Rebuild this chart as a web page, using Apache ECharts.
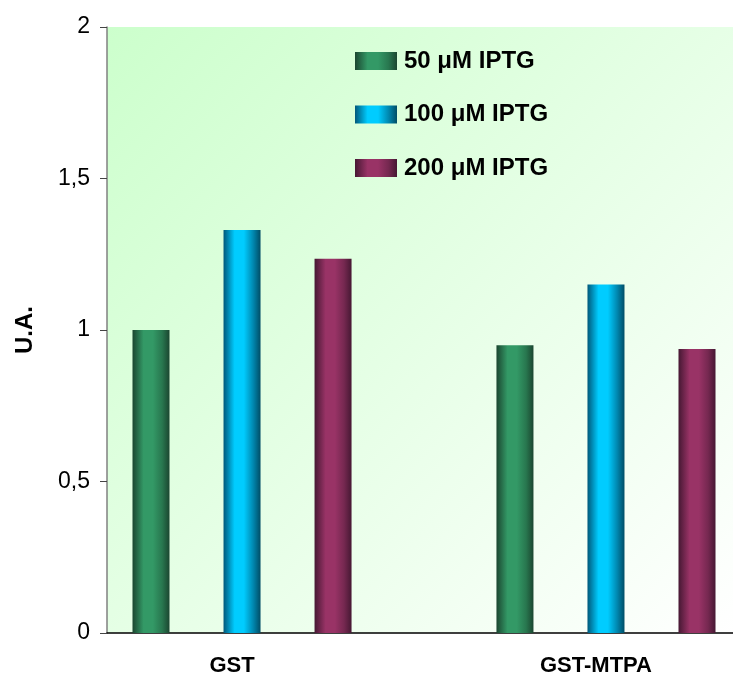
<!DOCTYPE html>
<html>
<head>
<meta charset="utf-8">
<script src="https://cdn.jsdelivr.net/npm/echarts@6/dist/echarts.min.js"></script>
<style>
html,body{margin:0;padding:0;background:#fff;}
#chart{width:733px;height:680px;}
</style>
</head>
<body>
<div id="chart"></div>
<script>
const categories = ['GST', 'GST-MTPA'];
const seriesNames = ['50 \u03bcM IPTG', '100 \u03bcM IPTG', '200 \u03bcM IPTG'];
const iptg50 = [1.0, 0.95];
const iptg100 = [1.33, 1.15];
const iptg200 = [1.235, 0.937];
const yTicks = [0, 0.5, 1, 1.5, 2];

const FONT = 'Liberation Sans, Arial, Helvetica, sans-serif';

function grad(stops) {
  return new echarts.graphic.LinearGradient(0, 0, 1, 0,
    stops.map(s => ({ offset: s[0], color: s[1] })));
}
const colors = [
  grad([[0, '#1b4630'], [0.3, '#339966'], [0.55, '#339966'], [0.8, '#28774f'], [1, '#1b4630']]),
  grad([[0, '#00587a'], [0.3, '#00ccff'], [0.55, '#00ccff'], [0.8, '#0088b0'], [1, '#004d66']]),
  grad([[0, '#461833'], [0.3, '#993366'], [0.55, '#993366'], [0.8, '#752850'], [1, '#461833']])
];
const valueSets = [iptg50, iptg100, iptg200];

const chart = echarts.init(document.getElementById('chart'));
chart.setOption({
  animation: false,
  textStyle: { fontFamily: FONT },
  grid: {
    left: 107, right: 0, top: 27, bottom: 47,
    show: true, borderWidth: 0,
    backgroundColor: new echarts.graphic.LinearGradient(0, 0, 1, 1, [
      { offset: 0, color: '#ccffcc' },
      { offset: 1, color: '#ffffff' }
    ])
  },
  legend: {
    orient: 'vertical',
    left: 350, top: 44,
    itemWidth: 42, itemHeight: 18, itemGap: 29.5,
    icon: 'rect',
    data: seriesNames,
    textStyle: { fontFamily: FONT, fontSize: 24, fontWeight: 'bold', color: '#000', lineHeight: 24, padding: [0, 0, 0, 2] }
  },
  xAxis: {
    type: 'value',
    min: -0.371, max: 1.349,
    splitLine: { show: false },
    axisTick: { show: false },
    axisLine: { show: true, onZero: false, lineStyle: { color: '#000', width: 1.5 } },
    axisLabel: {
      customValues: categories.map((c, i) => i),
      formatter: v => categories[Math.round(v)] || '',
      fontFamily: FONT, fontSize: 22, fontWeight: 'bold', color: '#000',
      margin: 22, padding: [0, 20, 0, 0]
    }
  },
  yAxis: {
    type: 'value',
    min: 0, max: 2, interval: 0.5,
    name: 'U.A.',
    nameLocation: 'middle', nameRotate: 90, nameGap: 70,
    nameTextStyle: { fontFamily: FONT, fontSize: 24, fontWeight: 'bold', color: '#000' },
    splitLine: { show: false },
    axisLine: { show: true, onZero: false, lineStyle: { color: '#808080', width: 1.5 } },
    axisTick: { show: true, length: 7, lineStyle: { color: '#444' } },
    axisLabel: {
      fontFamily: FONT, fontSize: 23, color: '#000', margin: 17,
      formatter: v => String(v).replace('.', ',')
    }
  },
  series: seriesNames.map((name, s) => ({
    name: name,
    type: 'bar',
    barWidth: 37,
    barGap: '146%',
    itemStyle: { color: colors[s] },
    data: valueSets[s].map((v, i) => [i, v])
  }))
});
</script>
</body>
</html>
